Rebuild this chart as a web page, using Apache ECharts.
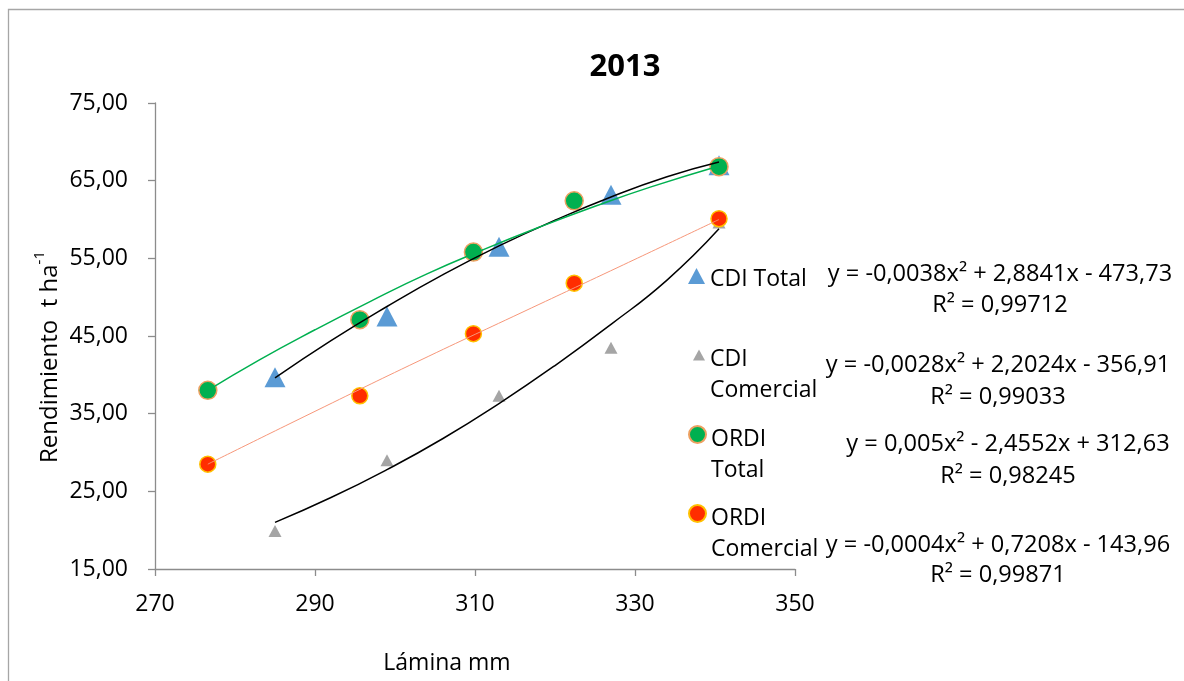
<!DOCTYPE html>
<html>
<head>
<meta charset="utf-8">
<script src="https://cdn.jsdelivr.net/npm/echarts@6/dist/echarts.min.js"></script>
<style>
html,body{margin:0;padding:0;background:#fff;}
#chart{width:1184px;height:681px;}
</style>
</head>
<body>
<div id="chart"></div>
<script>
// ---- data ----
const seriesNames = ['CDI Total', 'CDI Comercial', 'ORDI Total', 'ORDI Comercial'];
const cdiX = [285, 299, 313, 327, 340.5];
const cdiTotal = [39.7, 47.5, 56.5, 63.2, 67.0];
const cdiComercial = [19.9, 29.0, 37.3, 43.5, 59.6];
const ordiX = [276.6, 295.6, 309.8, 322.4, 340.5];
const ordiTotal = [38.0, 47.1, 55.8, 62.4, 66.8];
const ordiComercial = [28.5, 37.3, 45.3, 51.8, 60.1];

// trend lines
const cdiTrendX = [285, 292, 299, 306, 313, 320, 327, 334, 340.5];
const cdiTotalTrend = [39.6, 44.4, 48.8, 52.9, 56.6, 59.9, 62.9, 65.5, 67.4];
const cdiComercialTrend = [21.0, 24.2, 27.8, 31.8, 36.3, 41.2, 46.5, 52.2, 58.8];
const ordiTotalTrendX = [276.6, 283, 290, 297, 304, 311, 318, 325, 332, 340.5];
const ordiTotalTrend = [38.0, 41.9, 45.8, 49.5, 53.0, 56.1, 59.0, 61.7, 64.2, 66.9];
const ordiComTrendX = [276.6, 290, 303, 316, 328, 340.5];
const ordiComercialTrend = [28.5, 35.3, 41.8, 48.1, 53.9, 60.0];

const xTicks = ['270', '290', '310', '330', '350'];
const yTicks = ['15,00', '25,00', '35,00', '45,00', '55,00', '65,00', '75,00'];

const equations = [
  ['y = -0,0038x² + 2,8841x - 473,73', 'R² = 0,99712'],
  ['y = -0,0028x² + 2,2024x - 356,91', 'R² = 0,99033'],
  ['y = 0,005x² - 2,4552x + 312,63', 'R² = 0,98245'],
  ['y = -0,0004x² + 0,7208x - 143,96', 'R² = 0,99871']
];
const titleText = '2013';
const xName = 'Lámina mm';
const yName = 'Rendimiento  t ha';
const yNameSup = '-1';

// ---- build ----
const zip = (xs, ys) => xs.map((x, i) => [x, ys[i]]);
const FONT = 'Open Sans';
const FS = 23;

const chart = echarts.init(document.getElementById('chart'), null, {renderer: 'canvas'});

// legend icons: symbol at the top, an empty point below so the icon sits on the first text line
const ICON_TRI_BIG = 'path://M8.5,0 L17,16 L0,16 Z M0,23 L0,23';
const ICON_TRI_SMALL = 'path://M6,0 L12,11 L0,11 Z M0,51 L0,51';
const ICON_CIRCLE = 'path://M0,8.5 A8.5,8.5 0 1,1 17,8.5 A8.5,8.5 0 1,1 0,8.5 Z M0,58 L0,58';

function legendFor(name, left, top, w, h, icon, multi) {
  return {
    show: true, left: left, top: top, orient: 'vertical',
    itemWidth: w, itemHeight: h, padding: 0, itemGap: 0,
    selectedMode: false, symbolKeepAspect: false,
    data: [{name: name, icon: icon}],
    formatter: n => n.replace(' ', multi ? '\n' : ' '),
    textStyle: {fontFamily: FONT, fontSize: FS, color: '#000', lineHeight: 31}
  };
}

const EQ_FS = 23.6;
const eqCenters = [[1000, 274, 305], [998, 365, 397], [1008, 444, 476], [998, 545, 575]];
const eqGraphics = [];
equations.forEach((e, i) => {
  const c = eqCenters[i];
  eqGraphics.push({type: 'text', x: c[0], y: c[1], style: {text: e[0], font: EQ_FS + 'px "' + FONT + '"', fill: '#000', align: 'center', verticalAlign: 'middle'}});
  eqGraphics.push({type: 'text', x: c[0], y: c[2], style: {text: e[1], font: EQ_FS + 'px "' + FONT + '"', fill: '#000', align: 'center', verticalAlign: 'middle'}});
});

const option = {
  animation: false,
  backgroundColor: '#fff',
  grid: {left: 155, right: 389, top: 103, bottom: 112, containLabel: false},
  xAxis: {
    type: 'value', min: 270, max: 350, interval: 20,
    axisLine: {show: true, onZero: false, lineStyle: {color: '#8C8C8C', width: 1.3}},
    axisTick: {show: true, length: 7, lineStyle: {color: '#8C8C8C', width: 1.3}},
    splitLine: {show: false},
    axisLabel: {margin: 24, fontFamily: FONT, fontSize: FS, color: '#000',
      formatter: v => xTicks[Math.round((v - 270) / 20)]}
  },
  yAxis: {
    type: 'value', min: 15, max: 75, interval: 10,
    axisLine: {show: true, onZero: false, lineStyle: {color: '#8C8C8C', width: 1.3}},
    axisTick: {show: true, length: 7, lineStyle: {color: '#8C8C8C', width: 1.3}},
    splitLine: {show: false},
    axisLabel: {margin: 27, fontFamily: FONT, fontSize: FS, color: '#000',
      formatter: v => yTicks[Math.round((v - 15) / 10)]}
  },
  legend: [
    legendFor(seriesNames[0], 688, 264, 17, 23, ICON_TRI_BIG, false),
    legendFor(seriesNames[1], 693, 344, 12, 51, ICON_TRI_SMALL, true),
    legendFor(seriesNames[2], 688, 424, 17, 58, ICON_CIRCLE, true),
    legendFor(seriesNames[3], 688, 503, 17, 58, ICON_CIRCLE, true)
  ],
  series: [
    {name: seriesNames[0], type: 'scatter', z: 2, symbol: 'triangle', symbolSize: [21, 20],
      itemStyle: {color: '#5B9BD5', opacity: 1}, data: zip(cdiX, cdiTotal)},
    {name: seriesNames[1], type: 'scatter', z: 2, symbol: 'triangle', symbolSize: [13, 12],
      itemStyle: {color: '#A5A5A5', opacity: 1}, data: zip(cdiX, cdiComercial)},
    {name: seriesNames[2], type: 'scatter', z: 2, symbol: 'circle', symbolSize: 18,
      itemStyle: {color: '#00B050', borderColor: '#EDA060', borderWidth: 1.5, opacity: 1}, data: zip(ordiX, ordiTotal)},
    {name: seriesNames[3], type: 'scatter', z: 2, symbol: 'circle', symbolSize: 16,
      itemStyle: {color: '#FF2D00', borderColor: '#FFC000', borderWidth: 1.5, opacity: 1}, data: zip(ordiX, ordiComercial)},
    {name: 'trend CDI Total', type: 'line', z: 3, smooth: true, showSymbol: false, silent: true,
      lineStyle: {color: '#000', width: 1.5}, data: zip(cdiTrendX, cdiTotalTrend)},
    {name: 'trend CDI Comercial', type: 'line', z: 3, smooth: true, showSymbol: false, silent: true,
      lineStyle: {color: '#000', width: 1.5}, data: zip(cdiTrendX, cdiComercialTrend)},
    {name: 'trend ORDI Total', type: 'line', z: 3, smooth: true, showSymbol: false, silent: true,
      lineStyle: {color: '#00B050', width: 1.5}, data: zip(ordiTotalTrendX, ordiTotalTrend)},
    {name: 'trend ORDI Comercial', type: 'line', z: 3, smooth: true, showSymbol: false, silent: true,
      lineStyle: {color: '#F7977A', width: 1}, data: zip(ordiComTrendX, ordiComercialTrend)}
  ],
  graphic: [
    {type: 'rect', z: -10, shape: {x: 8.5, y: 9.5, width: 1400, height: 1000},
      style: {fill: 'none', stroke: '#A6A6A6', lineWidth: 1.3}},
    {type: 'text', x: 625, y: 67, style: {text: titleText, font: 'bold 31px "' + FONT + '"', fill: '#000', align: 'center', verticalAlign: 'middle'}},
    {type: 'text', x: 447, y: 663, style: {text: xName, font: FS + 'px "' + FONT + '"', fill: '#000', align: 'center', verticalAlign: 'middle'}},
    {type: 'text', x: 47, y: 357, rotation: Math.PI / 2,
      style: {text: '{a|' + yName + '}{s|' + yNameSup + '}', align: 'center', verticalAlign: 'middle',
        rich: {
          a: {fontFamily: FONT, fontSize: 24, color: '#000', lineHeight: 30, verticalAlign: 'bottom'},
          s: {fontFamily: FONT, fontSize: 15, color: '#000', lineHeight: 30, verticalAlign: 'top'}
        }}}
  ].concat(eqGraphics)
};
chart.setOption(option);
</script>
</body>
</html>
